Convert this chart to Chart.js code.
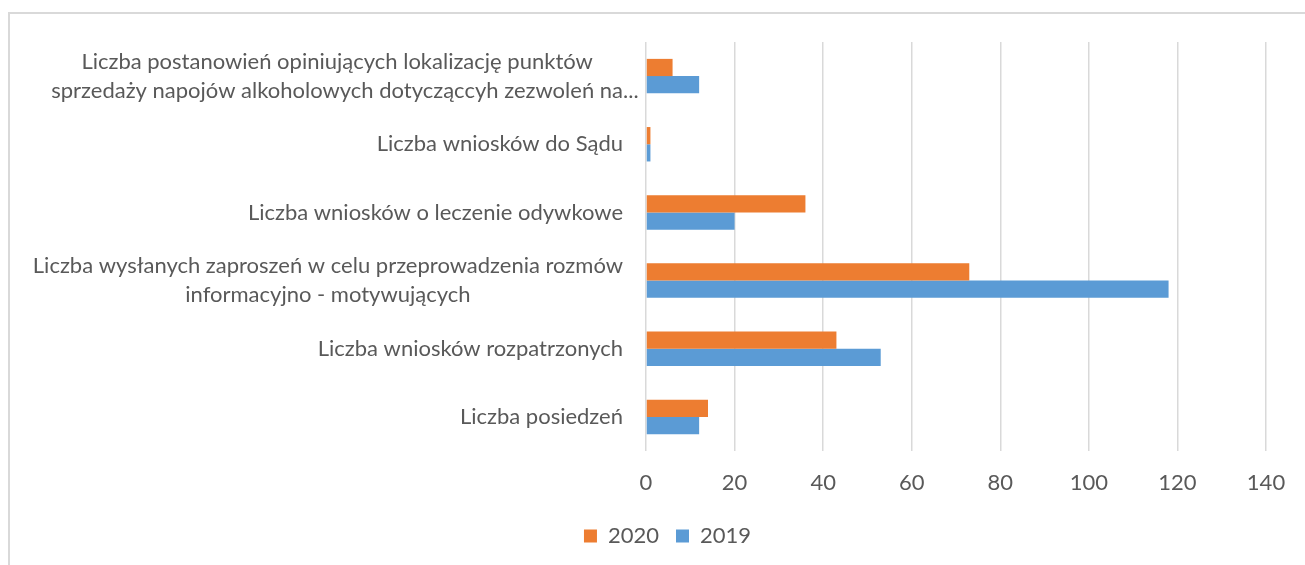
<!DOCTYPE html>
<html lang="pl">
<head>
<meta charset="utf-8">
<script src="https://cdn.jsdelivr.net/npm/chart.js@4.4.1/dist/chart.umd.min.js"></script>
<style>
  html, body { margin: 0; padding: 0; background: #fff; width: 1305px; height: 565px; overflow: hidden; }
  #frame { position: absolute; left: 8px; top: 12px; width: 1400px; height: 700px;
           border-left: 2px solid #d9d9d9; border-top: 2px solid #d9d9d9; }
  #chart { position: absolute; left: 0; top: 0; }
</style>
</head>
<body>
<div id="frame"></div>
<canvas id="chart" width="1305" height="565"></canvas>
<script>
// Category labels (one entry per line of the label), top to bottom
const categories = [
  ["Liczba postanowień opiniujących lokalizację punktów",
   "sprzedaży napojów alkoholowych dotycząccyh zezwoleń na..."],
  ["Liczba wniosków do Sądu"],
  ["Liczba wniosków o leczenie odywkowe"],
  ["Liczba wysłanych zaproszeń w celu przeprowadzenia rozmów",
   "informacyjno - motywujących"],
  ["Liczba wniosków rozpatrzonych"],
  ["Liczba posiedzeń"]
];
const seriesNames = ["2020", "2019"];
const values2020 = [6, 1, 36, 73, 43, 14];
const values2019 = [12, 1, 20, 118, 53, 12];
const xTicks = [0, 20, 40, 60, 80, 100, 120, 140];

const FONT_FAMILY = "Lato, 'Open Sans', sans-serif";
const FONT_SIZE = 22;
const LINE_HEIGHT = 29;
const TEXT_COLOR = "#595959";
const GRID_COLOR = "#d9d9d9";

// Draws the category labels beside the value axis; multi-line labels are
// centred as a block that is right-aligned against the axis (trailing
// ellipsis overhangs the block).
const categoryLabels = {
  id: "categoryLabels",
  afterDraw(chart) {
    const ctx = chart.ctx;
    const yScale = chart.scales.y;
    const right = chart.chartArea.left - 23;
    ctx.save();
    ctx.font = FONT_SIZE + "px " + FONT_FAMILY;
    ctx.fillStyle = TEXT_COLOR;
    ctx.textAlign = "left";
    ctx.textBaseline = "middle";
    categories.forEach((lines, i) => {
      const cy = yScale.getPixelForTick(i);
      const widths = lines.map(s => ctx.measureText(s.replace(/\.\.\.$/, "")).width);
      const block = Math.max(...widths);
      const cx = right - block / 2;
      const top = cy - (lines.length - 1) * LINE_HEIGHT / 2;
      lines.forEach((s, j) => ctx.fillText(s, cx - widths[j] / 2, top + j * LINE_HEIGHT));
    });
    ctx.restore();
  }
};

new Chart(document.getElementById("chart"), {
  type: "bar",
  data: {
    labels: categories.map(l => l.join(" ")),
    datasets: [
      { label: seriesNames[0], data: values2020, backgroundColor: "#ED7D31", borderWidth: 0 },
      { label: seriesNames[1], data: values2019, backgroundColor: "#5B9BD5", borderWidth: 0 }
    ]
  },
  options: {
    indexAxis: "y",
    responsive: false,
    animation: false,
    devicePixelRatio: 1,
    categoryPercentage: 0.505,
    barPercentage: 1.0,
    layout: { padding: { top: 42, left: 69, right: 39, bottom: 8 } },
    plugins: {
      tooltip: { enabled: false },
      legend: {
        position: "bottom",
        align: "center",
        labels: {
          boxWidth: 13,
          boxHeight: 13,
          padding: 17,
          color: TEXT_COLOR,
          font: { family: FONT_FAMILY, size: FONT_SIZE }
        }
      }
    },
    scales: {
      x: {
        position: "bottom",
        min: 0,
        max: 140,
        afterBuildTicks(scale) { scale.ticks = xTicks.map(v => ({ value: v })); },
        afterFit(scale) { scale.height = 57; },
        grid: { color: GRID_COLOR, lineWidth: 1.5, drawTicks: false },
        border: { display: false },
        ticks: {
          padding: 19,
          color: TEXT_COLOR,
          font: { family: FONT_FAMILY, size: FONT_SIZE }
        }
      },
      y: {
        afterFit(scale) { scale.width = 577; },
        grid: { display: false, drawTicks: false },
        border: { display: false },
        ticks: { display: false }
      }
    }
  },
  plugins: [categoryLabels]
});
</script>
</body>
</html>
